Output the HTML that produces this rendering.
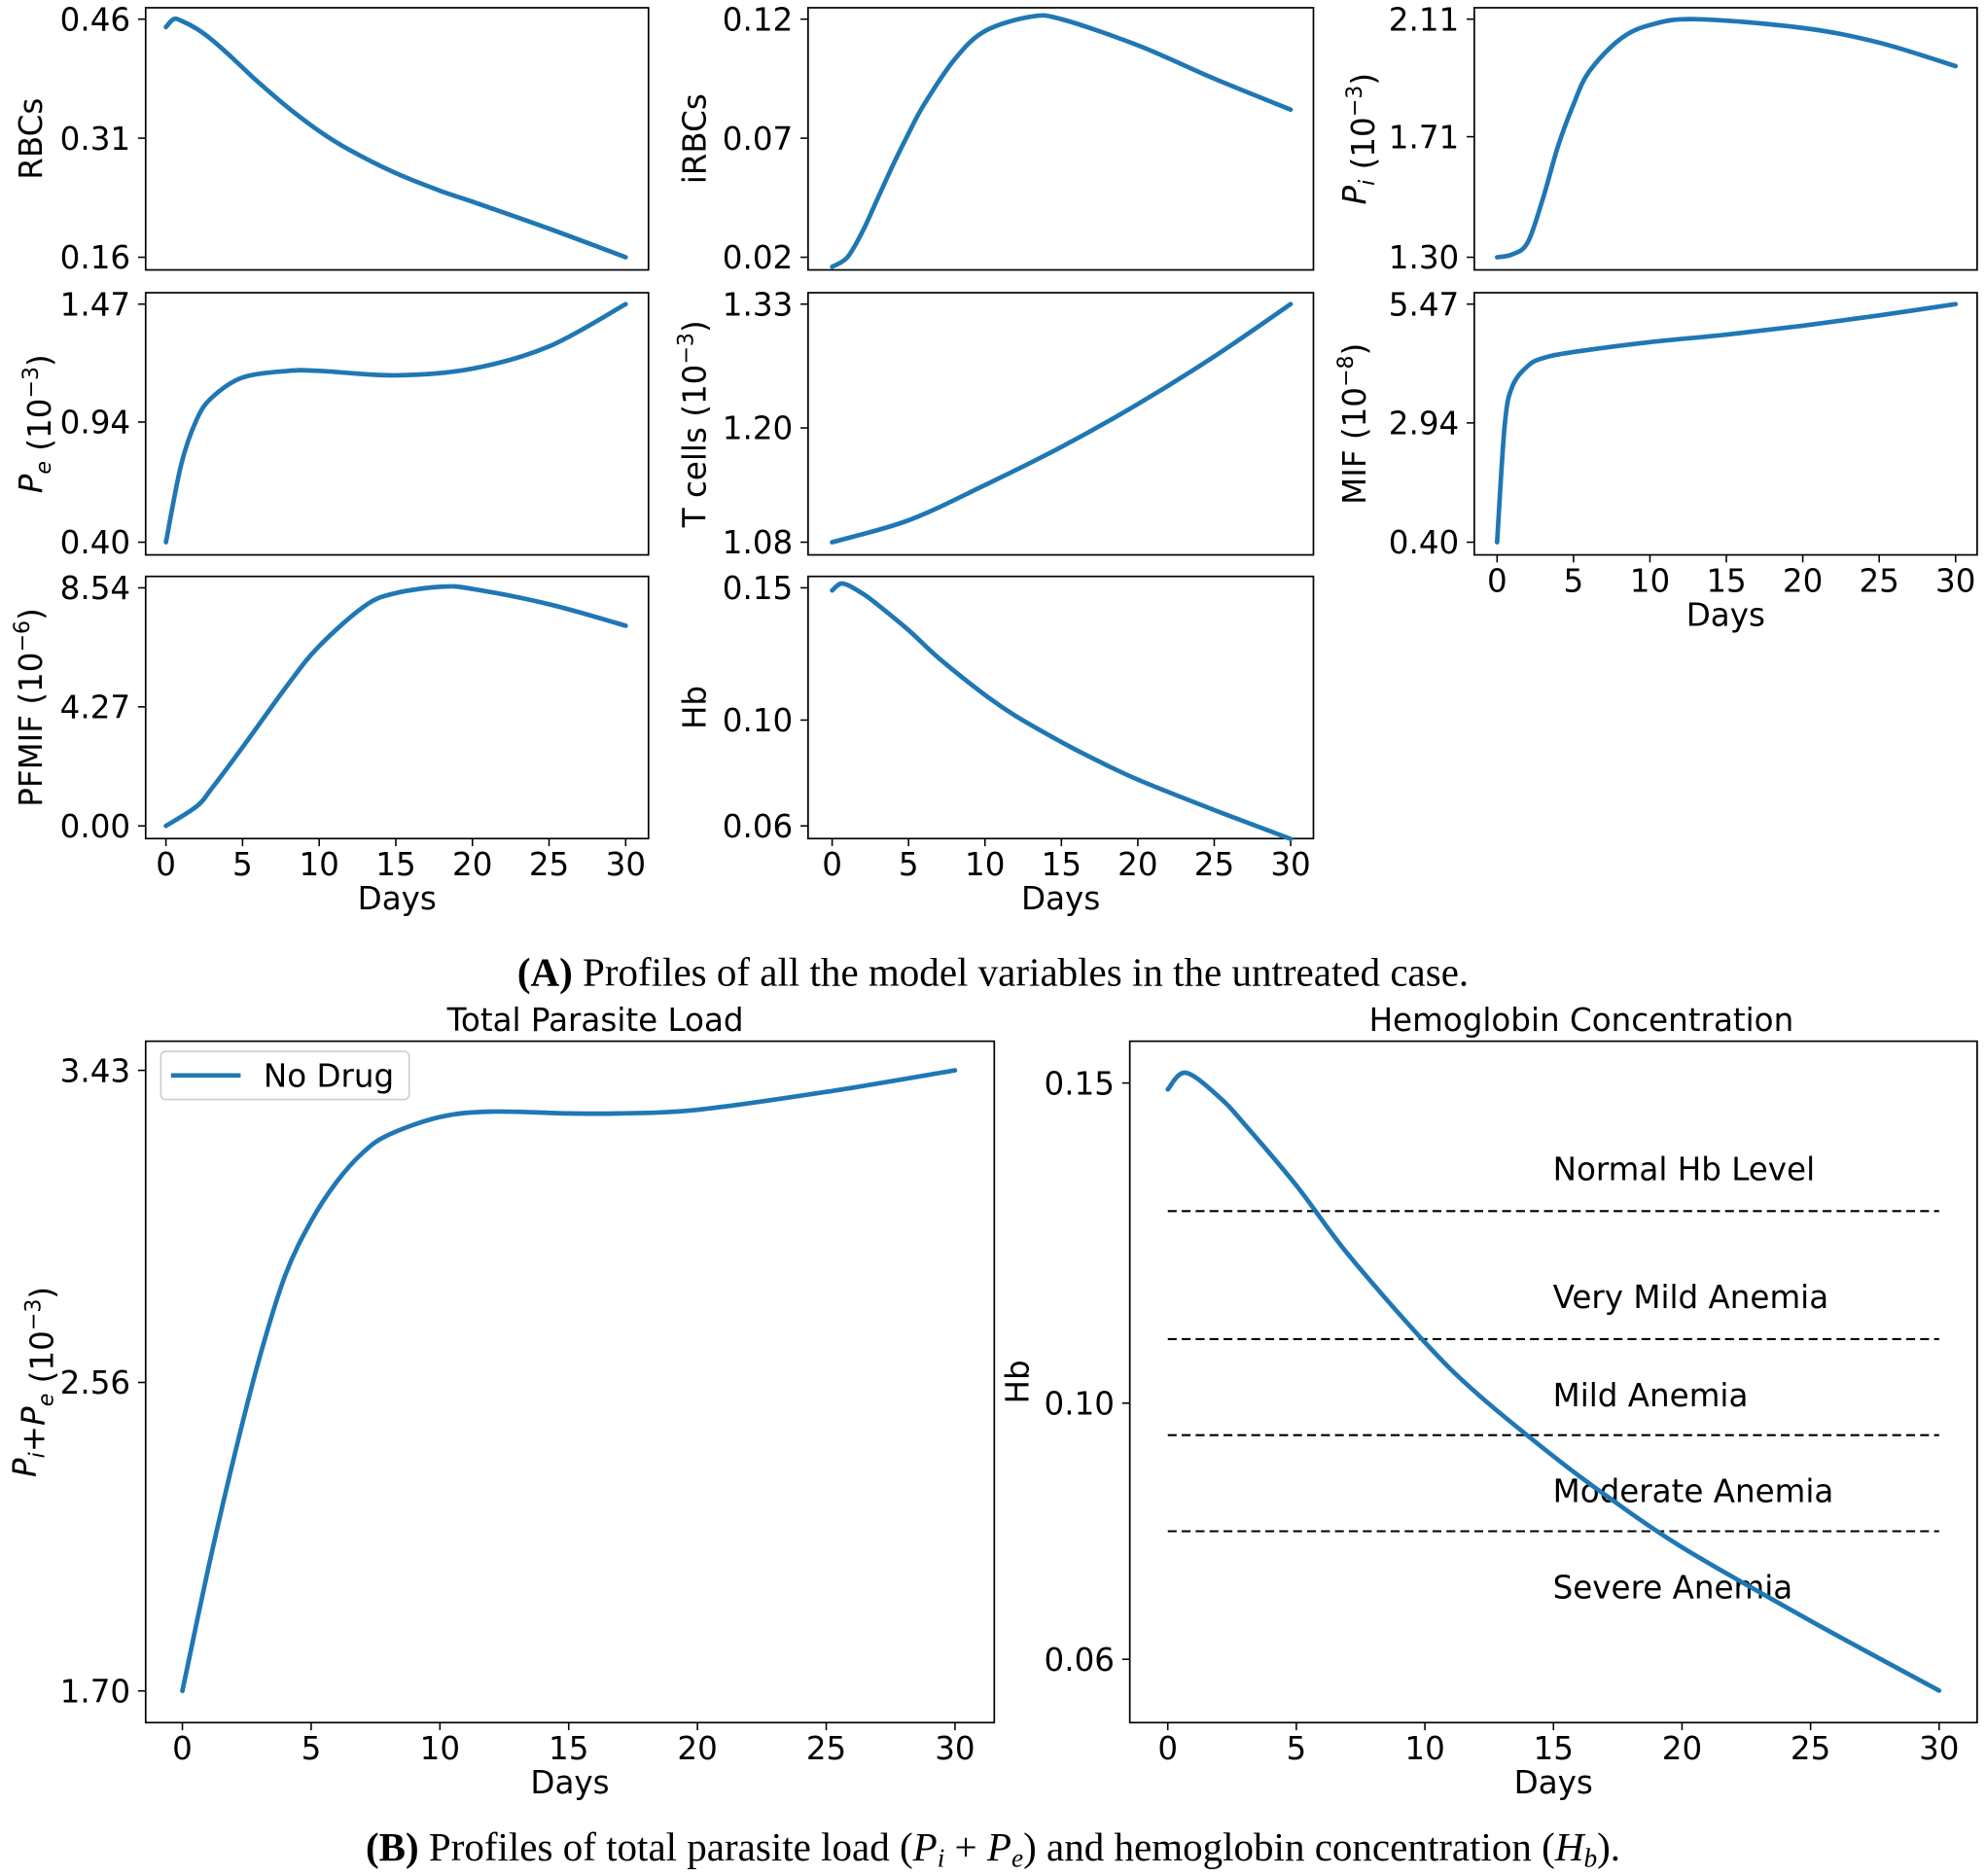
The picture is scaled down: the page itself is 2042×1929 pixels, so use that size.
<!DOCTYPE html>
<html><head><meta charset="utf-8">
<style>
html,body{margin:0;padding:0;background:#fff;}
svg{display:block;}
text{font-family:"DejaVu Sans","Liberation Sans",sans-serif;fill:#000;}
.cap{font-family:"Liberation Serif",serif;font-size:31.5px;}
</style></head>
<body>
<svg id="fig" width="2042" height="1929" viewBox="0 0 1568 1481" xmlns="http://www.w3.org/2000/svg">
<text class="cap" x="784" y="778" text-anchor="middle"><tspan font-weight="bold">(A)</tspan> Profiles of all the model variables in the untreated case.</text>
<text class="cap" x="784" y="1469" text-anchor="middle"><tspan font-weight="bold">(B)</tspan> Profiles of total parasite load (<tspan font-style="italic">P</tspan><tspan font-style="italic" font-size="21" dy="5">i</tspan><tspan dy="-5"> + </tspan><tspan font-style="italic">P</tspan><tspan font-style="italic" font-size="21" dy="5">e</tspan><tspan dy="-5">) and hemoglobin concentration (</tspan><tspan font-style="italic">H</tspan><tspan font-style="italic" font-size="21" dy="5">b</tspan><tspan dy="-5">).</tspan></text>
</svg>
<script>
// ---- data ----
const rbcDays=[0,0.5,1,2,3,4,5,6,8,10,12,15,18,20,25,30];
const rbcVals=[0.45,0.46,0.458,0.448,0.434,0.417,0.399,0.381,0.348,0.319,0.295,0.266,0.243,0.230,0.196,0.16];
const irbcDays=[0,1,2,3,4,5,6,8,10,13,15,20,25,30];
const irbcVals=[0.016,0.02,0.031,0.045,0.059,0.072,0.084,0.103,0.115,0.121,0.12,0.109,0.095,0.082];
const piDays=[0,1,2,3,4,5,6,8,10,13,20,25,30];
const piVals=[1.30,1.31,1.35,1.50,1.68,1.82,1.93,2.04,2.09,2.11,2.08,2.03,1.95];
const peDays=[0,1,2,3,5,8,10,15,20,25,30];
const peVals=[0.40,0.75,0.95,1.05,1.14,1.17,1.17,1.15,1.18,1.28,1.47];
const tDays=[0,5,10,15,20,25,30];
const tVals=[1.08,1.103,1.14,1.18,1.225,1.275,1.33];
const mifDays=[0,0.5,1,2,3,5,10,15,20,25,30];
const mifVals=[0.40,2.9,3.72,4.15,4.32,4.45,4.66,4.82,5.01,5.23,5.47];
const pfDays=[0,2,3,5,8,10,13,15,18,20,25,30];
const pfVals=[0,0.7,1.35,2.82,5.1,6.45,7.9,8.35,8.58,8.5,7.95,7.18];
const hbDays=[0,0.7,2,3,5,7,10,12,15,17,20,25,30];
const hbVals=[0.149,0.1516,0.1478,0.1435,0.134,0.1233,0.1095,0.1016,0.0917,0.0857,0.0775,0.066,0.0551];
const tplDays=[0,1,2,3,4,5,6,7,8,10,12,15,17,20,25,30];
const tplVals=[1.70,2.04,2.35,2.63,2.86,3.01,3.12,3.2,3.25,3.3,3.315,3.31,3.31,3.32,3.37,3.43];
const xTicks=[0,5,10,15,20,25,30];
const anemiaLevels=[0.13,0.11,0.095,0.08];
const anemiaLabels=["Normal Hb Level","Very Mild Anemia","Mild Anemia","Moderate Anemia","Severe Anemia"];
const anemiaLabelVals=[0.1366,0.1166,0.1013,0.0863,0.0713];

const FS=25;
const NS="http://www.w3.org/2000/svg";
const svg=document.getElementById('fig');
function mk(tag,attrs,parent){const e=document.createElementNS(NS,tag);for(const k in attrs)e.setAttribute(k,attrs[k]);(parent||svg).appendChild(e);return e;}
function smoothPath(pts){let d=`M${pts[0][0]},${pts[0][1]}`;for(let i=0;i<pts.length-1;i++){const p0=pts[Math.max(0,i-1)],p1=pts[i],p2=pts[i+1],p3=pts[Math.min(pts.length-1,i+2)];const c1=[p1[0]+(p2[0]-p0[0])/6,p1[1]+(p2[1]-p0[1])/6],c2=[p2[0]-(p3[0]-p1[0])/6,p2[1]-(p3[1]-p1[1])/6];d+=` C${c1[0]},${c1[1]} ${c2[0]},${c2[1]} ${p2[0]},${p2[1]}`;}return d;}

function panel(o){
  const g=mk('g',{});
  
  
  const xs=v=>o.x0+(v-0)/30*(o.x30-o.x0);
  const ys=v=>o.yA+(v-o.vA)/(o.vB-o.vA)*(o.yB-o.yA);
  const fr=mk('rect',{x:o.L,y:o.T,width:o.R-o.L,height:o.B-o.T,fill:'none',stroke:'#000','stroke-width':1.3},g);
  
  
  o.yTicks.forEach((v,i)=>{const y=ys(v);
    mk('line',{x1:o.L-6,x2:o.L,y1:y,y2:y,stroke:'#000','stroke-width':1.2},g);
    const t=mk('text',{x:o.L-12,y:y+9,'text-anchor':'end','font-size':FS},g);t.textContent=o.yLabels[i];
    
    });
  if(o.showX){xTicks.forEach(v=>{const x=xs(v);
    mk('line',{x1:x,x2:x,y1:o.B,y2:o.B+6,stroke:'#000','stroke-width':1.2},g);
    const t=mk('text',{x:x,y:o.B+29,'text-anchor':'middle','font-size':FS},g);t.textContent=v;
    
    });
    const xl=mk('text',{x:(o.L+o.R)/2,y:o.B+56,'text-anchor':'middle','font-size':FS},g);xl.textContent='Days';
    
    }
  const yl=mk('text',{transform:`translate(${o.ylx},${(o.T+o.B)/2}) rotate(-90)`,'text-anchor':'middle','font-size':FS},g);
  yl.innerHTML=o.ylabel;
  
  
  if(o.extra)o.extra(g,xs,ys);
  const pts=o.days.map((d,i)=>[xs(d),ys(o.vals[i])]);
  const p=mk('path',{d:smoothPath(pts),fill:'none',stroke:'#1f77b4','stroke-width':3.6,'stroke-linecap':'round'},g);
  
  
  if(o.title){const t=mk('text',{x:(o.L+o.R)/2+o.tdx,y:o.T-8,'text-anchor':'middle','font-size':FS},g);t.textContent=o.title;
    
    }
}
const sup=s=>`<tspan font-size="17" dy="-10">${s}</tspan><tspan dy="10">)</tspan>`;
const sub=s=>`<tspan font-style="italic" font-size="17" dy="7">${s}</tspan><tspan dy="-7"></tspan>`;
const col=[{L:115,R:512,x0:131,x30:494,ylx:33},{L:638,R:1037,x0:657,x30:1019,ylx:557},{L:1164,R:1561,x0:1182,x30:1544,ylx:1078}];
const row=[{T:6,B:213},{T:231,B:438},{T:455,B:662}];
function P(c,r,name,days,vals,ticks,labels,ylabel,showX){const C=col[c],R=row[r];
  panel({name,L:C.L,R:C.R,T:R.T,B:R.B,x0:C.x0,x30:C.x30,ylx:C.ylx,days,vals,yTicks:ticks,yLabels:labels,
    vA:ticks[0],vB:ticks[ticks.length-1],yA:R.T+9,yB:R.B-10,ylabel,showX});}
P(0,0,'rbcs-panel',rbcDays,rbcVals,[0.46,0.31,0.16],['0.46','0.31','0.16'],'RBCs',false);
P(1,0,'irbcs-panel',irbcDays,irbcVals,[0.12,0.07,0.02],['0.12','0.07','0.02'],'iRBCs',false);
P(2,0,'pi-panel',piDays,piVals,[2.11,1.71,1.30],['2.11','1.71','1.30'],'<tspan font-style="italic">P</tspan>'+sub('i')+'<tspan> (10</tspan>'+sup('−3'),false);
P(0,1,'pe-panel',peDays,peVals,[1.47,0.94,0.40],['1.47','0.94','0.40'],'<tspan font-style="italic">P</tspan>'+sub('e')+'<tspan> (10</tspan>'+sup('−3'),false);
P(1,1,'tcells-panel',tDays,tVals,[1.33,1.20,1.08],['1.33','1.20','1.08'],'<tspan>T cells (10</tspan>'+sup('−3'),false);
P(2,1,'mif-panel',mifDays,mifVals,[5.47,2.94,0.40],['5.47','2.94','0.40'],'<tspan>MIF (10</tspan>'+sup('−8'),true);
P(0,2,'pfmif-panel',pfDays,pfVals,[8.54,4.27,0.00],['8.54','4.27','0.00'],'<tspan>PFMIF (10</tspan>'+sup('−6'),true);
P(1,2,'hb-small-panel',hbDays,hbVals,[0.15,0.10,0.06],['0.15','0.10','0.06'],'Hb',true);

panel({name:'total-parasite-load-panel',L:115,R:785,T:822,B:1360,x0:144,x30:754,ylx:28,days:tplDays,vals:tplVals,tdx:20,
  yTicks:[3.43,2.56,1.70],yLabels:['3.43','2.56','1.70'],vA:3.43,vB:1.70,yA:845,yB:1335,showX:true,title:'Total Parasite Load',
  ylabel:'<tspan font-style="italic">P</tspan>'+sub('i')+'<tspan>+</tspan><tspan font-style="italic">P</tspan>'+sub('e')+'<tspan> (10</tspan>'+sup('−3'),
  extra:(g)=>{const lg=mk('g',{},g);
    
    
    mk('rect',{x:127,y:830,width:196,height:38,rx:4,fill:'#fff',stroke:'#ccc','stroke-width':1.2},lg);
    mk('line',{x1:135,x2:190,y1:849,y2:849,stroke:'#1f77b4','stroke-width':3.6},lg);
    const t=mk('text',{x:208,y:858,'font-size':FS},lg);t.textContent='No Drug';
    
    }});

panel({name:'hemoglobin-panel',L:892,R:1561,T:822,B:1360,x0:922,x30:1531,ylx:812,days:hbDays,vals:hbVals,tdx:22,
  yTicks:[0.15,0.10,0.06],yLabels:['0.15','0.10','0.06'],vA:0.15,vB:0.06,yA:855,yB:1310,showX:true,title:'Hemoglobin Concentration',
  ylabel:'Hb',
  extra:(g,xs,ys)=>{anemiaLevels.forEach(v=>{const l=mk('line',{x1:xs(0),x2:xs(30),y1:ys(v),y2:ys(v),stroke:'#000','stroke-width':1.6,'stroke-dasharray':'7,4'},g);
      
      });
    anemiaLabels.forEach((s,i)=>{const t=mk('text',{x:1226,y:ys(anemiaLabelVals[i])+9,'font-size':FS},g);t.textContent=s;
      
      });}});
</script>
</body></html>
